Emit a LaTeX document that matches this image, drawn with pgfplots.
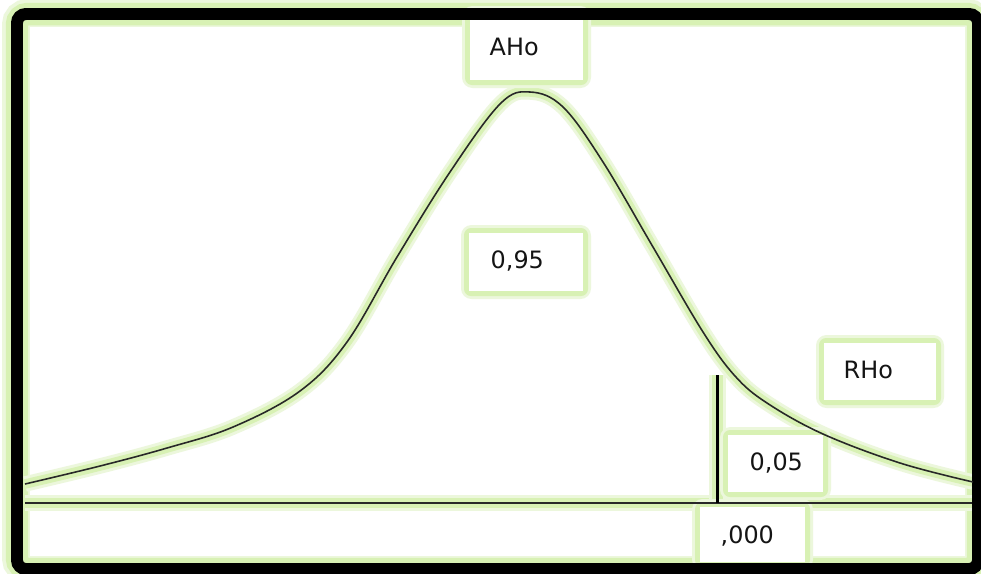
\documentclass[border=0pt]{standalone}
\usepackage{pgfplots}
\pgfplotsset{compat=1.18}
\usepackage{fontspec}
\setmainfont{DejaVu Sans}
\definecolor{glowA}{RGB}{236,247,220}
\definecolor{glowB}{RGB}{216,241,180}
\definecolor{curvecol}{RGB}{40,40,40}
\definecolor{txt}{RGB}{20,20,20}
\pgfplotstableread{
x y
25 484
100 466
167 448
233 427
300 391
347 342
397 257
450 172
500 104
530 92
563 107
603 162
653 247
703 332
735 376
767 403
823 434
900 463
973 482
}\curve
\newcommand{\gbox}[4]{%
  \fill[glowA, rounded corners=3pt] (#1-8,#2-8) rectangle (#3+8,#4+8);
  \fill[glowB, rounded corners=2pt] (#1-5,#2-5) rectangle (#3+5,#4+5);
  \fill[white] (#1,#2) rectangle (#3,#4);}
\begin{document}
\begin{tikzpicture}
\begin{axis}[
  scale only axis, width=9.81cm, height=5.73cm,
  xmin=0, xmax=981, ymin=0, ymax=573, y dir=reverse,
  hide axis, clip=false]
% background
\fill[white] (0,0) rectangle (981,573);
% frame glow
\draw[glowA, line width=8.5pt, rounded corners=3pt] (17,14) rectangle (978,569);
\draw[glowB, line width=6.4pt, rounded corners=3pt] (17,14) rectangle (978,569);
\fill[white] (30,27) rectangle (965,556);
% curve glow
\addplot[glowA, line width=4.4pt, smooth, tension=0.6] table {\curve};
\addplot[glowB, line width=2.7pt, smooth, tension=0.6] table {\curve};
% lines glow
\draw[glowA, line width=4.4pt] (25,503) -- (972,503);
\draw[glowB, line width=2.7pt] (25,503) -- (972,503);
\draw[glowA, line width=4.8pt] (717.5,375) -- (717.5,503);
\draw[glowB, line width=3.1pt] (717.5,375) -- (717.5,503);
% boxes
\gbox{470}{14}{583}{80}
\gbox{469}{233}{583}{291}
\gbox{824}{343}{936}{400}
\gbox{728}{435}{823}{492}
\gbox{700}{507}{805}{562}
% frame
\draw[black, line width=3.4pt, rounded corners=2.5pt] (17,14) rectangle (978,569);
% curve
\addplot[curvecol, line width=0.45pt, smooth, tension=0.6] table {\curve};
\draw[curvecol, line width=0.6pt] (25,503) -- (972,503);
\draw[black, line width=0.9pt] (717.5,375) -- (717.5,503);
% labels
\tikzset{lab/.style={anchor=base west, inner sep=0pt, text=txt, font=\fontsize{6.8pt}{8pt}\selectfont}}
\node[lab] at (489,55) {AHo};
\node[lab] at (490,268) {0,95};
\node[lab] at (843,378) {RHo};
\node[lab] at (749,470) {0,05};
\node[lab] at (720,543) {,000};
\end{axis}
\pgfresetboundingbox
\useasboundingbox (0,0) rectangle (9.81cm,5.73cm);
\end{tikzpicture}
\end{document}
